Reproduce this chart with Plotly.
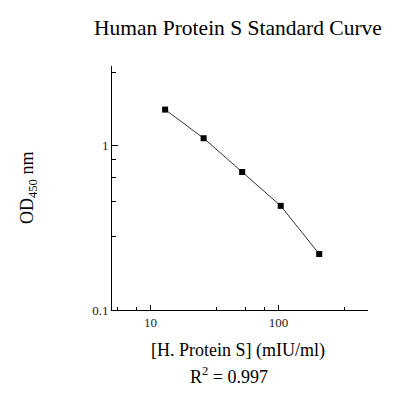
import numpy as np
import plotly.graph_objects as go

# Data
conc = [13, 26, 52, 104, 208]          # mIU/ml
od = [1.656, 1.109, 0.691, 0.430, 0.219]

x_major = [10, 100]
x_major_text = ["10", "100"]
x_minor = [5.5, 7.75, 32.5, 55, 77.5, 325]
y_major = [0.1, 1]
y_major_text = ["0.1", "1"]
y_minor = [0.28, 0.46, 0.64, 0.82, 2.8]

FONT = "Liberation Serif, Times New Roman, serif"

# page has an 8px body margin, so the figure is shrunk by 8px
W, H = 402, 388
L, R, T, B = 104, 42, 58, 86
PW, PH = W - L - R, H - T - B

def px(page_x):
    return (page_x - 8 - L) / PW

def py(page_y):
    return 1 - (page_y - 8 - T) / PH

fig = go.Figure()
fig.add_trace(go.Scatter(
    x=conc, y=od, mode="lines+markers",
    line=dict(color="#333333", width=1),
    marker=dict(symbol="square", size=6, color="black"),
    showlegend=False, cliponaxis=False,
))

fig.update_layout(
    width=W, height=H,
    margin=dict(l=L, r=R, t=T, b=B),
    paper_bgcolor="white", plot_bgcolor="white",
    font=dict(family=FONT, color="black"),
    title=dict(text="Human Protein S Standard Curve", x=(238 - 8) / W, xanchor="center",
               y=1 - (27 - 8) / H, yanchor="middle", font=dict(size=21.5, family=FONT, color="black")),
    xaxis=dict(
        type="log", range=[np.log10(5), np.log10(500)],
        showgrid=False, zeroline=False,
        showline=True, linecolor="black", linewidth=1,
        tickmode="array", tickvals=x_major, ticktext=x_major_text,
        ticks="inside", ticklen=5, tickcolor="black", tickwidth=1,
        tickfont=dict(size=13, family=FONT, color="#222222"),
        minor=dict(tickmode="array", tickvals=x_minor, ticks="inside", ticklen=3,
                   tickcolor="black", tickwidth=1, showgrid=False),
    ),
    yaxis=dict(
        type="log", range=[-1, np.log10(3.05)],
        showgrid=False, zeroline=False,
        showline=True, linecolor="black", linewidth=1,
        tickmode="array", tickvals=y_major, ticktext=y_major_text,
        ticks="inside", ticklen=6, tickcolor="black", tickwidth=1,
        tickfont=dict(size=13, family=FONT, color="#222222"),
        minor=dict(tickmode="array", tickvals=y_minor, ticks="inside", ticklen=4,
                   tickcolor="black", tickwidth=1, showgrid=False),
    ),
    annotations=[
        dict(text="[H. Protein S] (mIU/ml)", xref="paper", yref="paper",
             x=px(238), y=py(350), xanchor="center", yanchor="middle",
             showarrow=False, font=dict(size=18, family=FONT, color="black")),
        dict(text="R<sup>2</sup> = 0.997", xref="paper", yref="paper",
             x=px(229), y=py(375), xanchor="center", yanchor="middle",
             showarrow=False, font=dict(size=18, family=FONT, color="black")),
        dict(text="OD<sub>450</sub> nm", xref="paper", yref="paper",
             x=px(28), y=py(188), xanchor="center", yanchor="middle",
             textangle=-90, showarrow=False, font=dict(size=18, family=FONT, color="black")),
    ],
)

fig.write_html("out.html")
